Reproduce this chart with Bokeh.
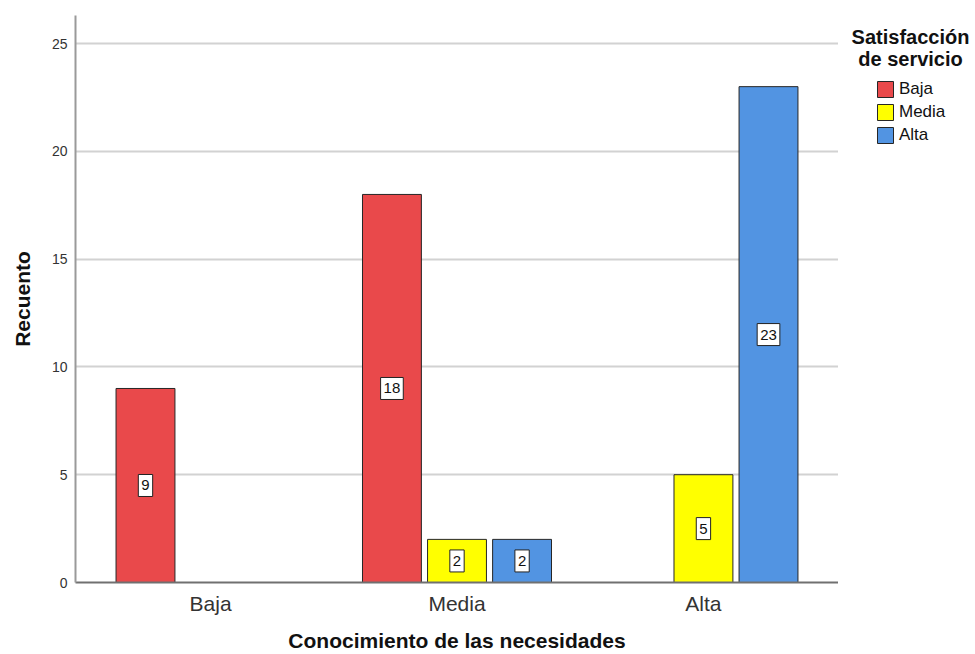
from bokeh.plotting import figure
from bokeh.models import (ColumnDataSource, FactorRange, Range1d, SingleIntervalTicker,
                          Legend, LegendItem, Label)
from bokeh.layouts import row
from bokeh.transform import dodge
from bokeh.core.properties import value
from bokeh.embed import file_html
from bokeh.resources import INLINE

categories = ["Baja", "Media", "Alta"]
series_names = ["Baja", "Media", "Alta"]
baja_vals = [9, 18, 0]
media_vals = [0, 2, 5]
alta_vals = [0, 2, 23]
series_values = [baja_vals, media_vals, alta_vals]
legend_title_lines = ["Satisfacción", "de servicio"]
colors = ["#E9494B", "#FFFF00", "#5294E2"]
offsets = [-0.264, 0.0, 0.264]

FONT = "Liberation Sans"

p = figure(width=838, height=654,
           x_range=FactorRange(*categories, range_padding=0.048, range_padding_units="absolute"),
           y_range=Range1d(0, 26.3), output_backend="svg", toolbar_location=None,
           min_border_left=75, min_border_right=0, min_border_top=15, min_border_bottom=72)
p.outline_line_color = None

for name, vals, col, off in zip(series_names, series_values, colors, offsets):
    cats = [c for c, v in zip(categories, vals) if v > 0]
    vs = [v for v in vals if v > 0]
    src = ColumnDataSource(dict(cat=cats, val=vs, mid=[v / 2 for v in vs],
                                lab=[str(v) for v in vs]))
    p.vbar(x=dodge("cat", off, range=p.x_range), top="val", bottom=0, width=0.239,
           source=src, fill_color=col, line_color="#262626", line_width=1)
    p.text(x=dodge("cat", off, range=p.x_range), y="mid", text="lab", source=src,
           text_align="center", text_baseline="middle", text_font=value(FONT),
           text_font_size="15px", text_color="#111111",
           background_fill_color="white", border_line_color="#222222",
           border_line_width=1, padding=(3, 6))

p.yaxis.ticker = SingleIntervalTicker(interval=5)
p.xgrid.grid_line_color = None
p.ygrid.grid_line_color = "#d2d2d2"
p.ygrid.grid_line_width = 2

p.yaxis.axis_line_color = "#9a9a9a"
p.yaxis.axis_line_width = 2
p.yaxis.major_tick_line_color = None
p.yaxis.minor_tick_line_color = None
p.yaxis.major_label_standoff = 2
p.yaxis.major_label_text_font = FONT
p.yaxis.major_label_text_font_size = "14px"
p.yaxis.major_label_text_color = "#333333"
p.yaxis.axis_label = "Recuento"
p.yaxis.axis_label_text_font = FONT
p.yaxis.axis_label_text_font_style = "bold"
p.yaxis.axis_label_text_font_size = "21px"
p.yaxis.axis_label_text_color = "#111111"
p.yaxis.axis_label_standoff = 15

p.xaxis.axis_line_color = "#707070"
p.xaxis.axis_line_width = 2
p.xaxis.major_tick_line_color = None
p.xaxis.minor_tick_line_color = None
p.xaxis.major_label_standoff = 3
p.xaxis.major_label_text_font = FONT
p.xaxis.major_label_text_font_size = "21px"
p.xaxis.major_label_text_color = "#333333"
p.xaxis.axis_label = "Conocimiento de las necesidades"
p.xaxis.axis_label_text_font = FONT
p.xaxis.axis_label_text_font_style = "bold"
p.xaxis.axis_label_text_font_size = "21px"
p.xaxis.axis_label_text_color = "#111111"
p.xaxis.axis_label_standoff = 11

# legend panel (its frame is aligned with the main frame: top 15, bottom 582)
q = figure(width=137, height=654, x_range=Range1d(0, 1), y_range=Range1d(0, 1),
           output_backend="svg", toolbar_location=None, x_axis_location=None,
           y_axis_location=None, min_border=0)
q.outline_line_color = None
q.grid.visible = False
leg_renderers = []
for name, col in zip(series_names, colors):
    # proxy glyphs lying outside the visible range, used only for legend swatches
    r = q.vbar(x=[5], top=[5], width=0.1, fill_color=col, line_color="#262626", line_width=1)
    leg_renderers.append(r)
legend = Legend(items=[LegendItem(label=n, renderers=[r]) for n, r in zip(series_names, leg_renderers)],
                location=(37, 437), padding=0, margin=0, spacing=3,
                glyph_width=20, glyph_height=20, label_height=20, label_standoff=4,
                label_text_font=FONT, label_text_font_size="17px", label_text_color="#111111",
                label_text_baseline="middle",
                border_line_color=None, background_fill_alpha=0)
q.add_layout(legend, "center")
for txt, yy in zip(legend_title_lines, [546, 524]):
    q.add_layout(Label(x=72, y=yy, x_units="screen", y_units="screen", text=txt,
                       text_align="center", text_baseline="middle", text_font=FONT,
                       text_font_style="bold", text_font_size="20px", text_color="#111111"))

layout = row(p, q)
open("out.html", "w").write(file_html(layout, INLINE))
